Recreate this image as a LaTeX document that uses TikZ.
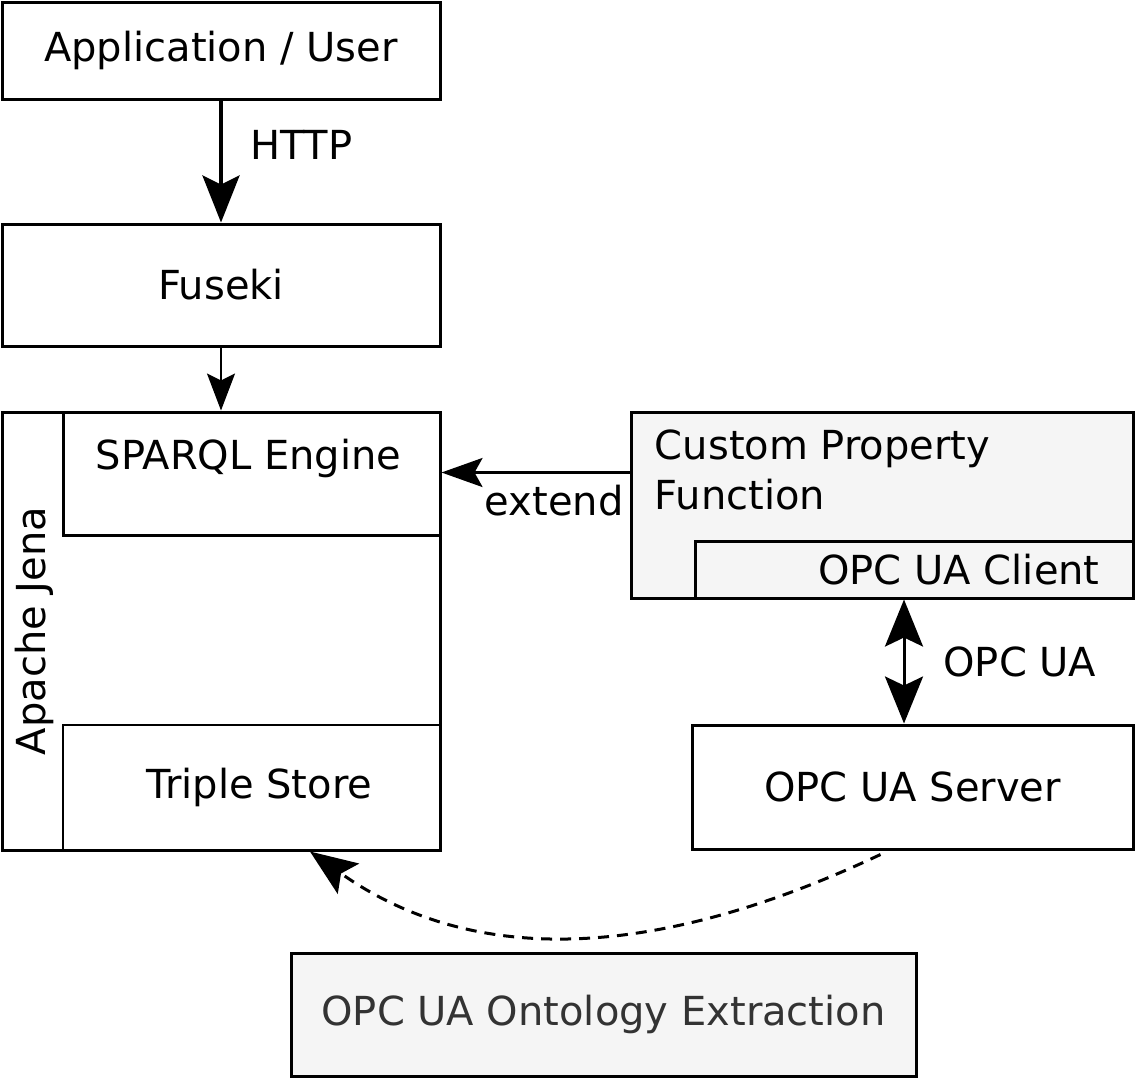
\documentclass[tikz,border=0pt]{standalone}
\usepackage{fontspec}
\setmainfont{DejaVu Sans}
\usetikzlibrary{calc,arrows.meta}

\definecolor{panelgray}{HTML}{F5F5F5}
\definecolor{labelgray}{HTML}{333333}

\begin{document}
\begin{tikzpicture}[x=0.5pt, y=-0.5pt,
    every node/.style={font=\fontsize{20}{25}\selectfont},
    box/.style={draw, line width=1.5pt, rectangle, inner sep=0pt, anchor=center},
    thin box/.style={draw, line width=0.7pt, rectangle, inner sep=0pt},
    shaded/.style={fill=panelgray},
    txt/.style={inner sep=0pt},
    flow/.style={line width=1.5pt, -{Stealth[length=23.5pt, width=18.5pt, inset=4.5pt]}},
    both flow/.style={line width=1.5pt,
      {Stealth[length=23.5pt, width=19pt, inset=4.5pt]}-{Stealth[length=23.5pt, width=19pt, inset=4.5pt]}}
  ]
  \useasboundingbox (0,0) rectangle (1135,1078);

  % left column
  \node (user) [box, minimum width=219pt, minimum height=48.5pt] at (221,50.5) {Application / User};
  \node (fuseki) [box, minimum width=219pt, minimum height=61pt] at (221,285) {Fuseki};
  \node (jena) [box, minimum width=219pt, minimum height=219pt] at (221,631) {};
  \node (sparql) [box, minimum width=188.5pt, minimum height=61.5pt] at (251.5,473.5) {};
  \node (triple) [thin box, minimum width=188.5pt, minimum height=62.5pt] at (251.5,787.5) {};

  \node (sparql text) [txt] at ($(sparql.north)+(-3,48)$) {SPARQL Engine};
  \node (triple text) [txt] at ($(triple.center)+(8,0)$) {Triple Store};
  \node (jena text) [txt, rotate=90] at ($(jena.west)+(34,0)$) {Apache Jena};

  % right column
  \node (custom) [box, shaded, minimum width=251pt, minimum height=93pt] at (882,505) {};
  \node (client) [box, shaded, minimum width=219pt, minimum height=28.5pt] at (914,569.5) {};
  \node (server) [box, minimum width=220.5pt, minimum height=62pt] at (912.5,787) {OPC UA Server};

  \node (custom text) [txt, anchor=north west, align=left] at ($(custom.north west)+(25,19)$)
    {Custom Property\\Function};
  \node (client text) [txt] at ($(client.center)+(45,0)$) {OPC UA Client};

  \tikzset{extraction/.style={box, shaded, text=labelgray,
                              minimum width=312.5pt, minimum height=61.5pt}};

  \node (extract) [extraction] at (603.5,1014.5) {OPC UA Ontology Extraction};

  \coordinate (extend-start) at ($(custom.north west)+(0,62)$);
  \coordinate (link-top) at ($(client.south)+(-10,0)$);
  \coordinate (server-below) at ($(server.south)+(-32,4)$);
  \coordinate (jena-below) at ($(jena.south)+(89,0)$);

  {
      \draw[flow, line width=2pt] (user) -- node [right, txt, pos=0.36, xshift=13.5pt] {HTTP} (fuseki);
      \draw[line width=1pt, -{Stealth[length=18.5pt, width=14pt, inset=3.5pt]}] (fuseki) -- (fuseki.south |- jena.north);

      \draw[line width=1.4pt, -{Stealth[length=20.5pt, width=14.5pt, inset=4pt]}]
        (extend-start) -- node [below, pos=0.4, yshift=-2.5pt] {extend} (extend-start -| sparql.east);

      \draw[both flow] (link-top) -- node [right, txt, xshift=19pt] {OPC UA} (link-top |- server.north);

      \draw[flow, dash pattern=on 5.5pt off 4pt] (server-below)
        .. controls ($(server-below)+(-185,87)$) and ($(jena-below)+(185,131)$) .. (jena-below);
  };
\end{tikzpicture}
\end{document}
